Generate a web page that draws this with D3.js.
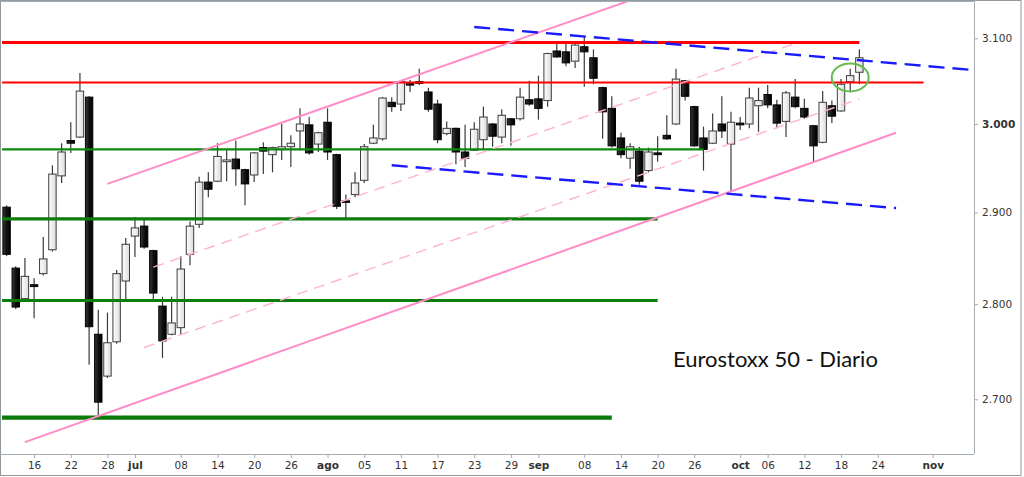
<!DOCTYPE html>
<html lang="es">
<head>
<meta charset="utf-8">
<title>Eurostoxx 50 - Diario</title>
<script src="https://d3js.org/d3.v7.min.js"></script>
<style>
    body { margin: 0; background: #fff; }
    svg { display: block; }
    .axis text { font-family: "DejaVu Sans", Verdana, sans-serif; font-size: 10.5px; fill: #333; }
    .axis path, .axis line { stroke: #a4acb4; }
    .title { font-family: Lato, "Open Sans", sans-serif; font-size: 22px; fill: #111; }
</style>
</head>
<body>
<svg id="chart" width="1024" height="477"></svg>
<script>

// daily candles, Eurostoxx 50
const dates = [
    "2016-06-13","2016-06-14","2016-06-15","2016-06-16","2016-06-17","2016-06-20","2016-06-21","2016-06-22","2016-06-23","2016-06-24",
    "2016-06-27","2016-06-28","2016-06-29","2016-06-30","2016-07-01","2016-07-04","2016-07-05","2016-07-06","2016-07-07","2016-07-08",
    "2016-07-11","2016-07-12","2016-07-13","2016-07-14","2016-07-15","2016-07-18","2016-07-19","2016-07-20","2016-07-21","2016-07-22",
    "2016-07-25","2016-07-26","2016-07-27","2016-07-28","2016-07-29","2016-08-01","2016-08-02","2016-08-03","2016-08-04","2016-08-05",
    "2016-08-08","2016-08-09","2016-08-10","2016-08-11","2016-08-12","2016-08-15","2016-08-16","2016-08-17","2016-08-18","2016-08-19",
    "2016-08-22","2016-08-23","2016-08-24","2016-08-25","2016-08-26","2016-08-29","2016-08-30","2016-08-31","2016-09-01","2016-09-02",
    "2016-09-05","2016-09-06","2016-09-07","2016-09-08","2016-09-09","2016-09-12","2016-09-13","2016-09-14","2016-09-15","2016-09-16",
    "2016-09-19","2016-09-20","2016-09-21","2016-09-22","2016-09-23","2016-09-26","2016-09-27","2016-09-28","2016-09-29","2016-09-30",
    "2016-10-03","2016-10-04","2016-10-05","2016-10-06","2016-10-07","2016-10-10","2016-10-11","2016-10-12","2016-10-13","2016-10-14",
    "2016-10-17","2016-10-18","2016-10-19","2016-10-20"
];
const open = [
    2906,2839,2806,2821,2833,2859,2941,2981,2985,3031,
    2768,2724,2760,2825,2874,2885,2858,2798,2768,2775,
    2854,2887,2934,2935,2957,2960,2948,2942,2973,2965,
    2971,2974,2992,2999,2977,3002,2965,2913,2920,2936,
    2978,2983,3025,3023,3048,3049,3037,3023,2989,2995,
    2968,2970,2982,3000,2985,3006,3006,3028,3029,3027,
    3085,3084,3073,3090,3077,3042,3018,2984,2961,2969,
    2947,2967,2987,3000,3050,3020,2984,2978,3000,2977,
    3001,3000,3021,3034,3022,3003,3031,3018,2998,2979,
    3021,3015,3049,3060
];
const high = [
    2908,2841,2850,2828,2873,2953,2978,3002,3059,3032,
    2794,2791,2837,2872,2895,2892,2859,2808,2808,2852,
    2890,2940,2945,2978,2970,2981,2949,2968,2979,2974,
    3000,2987,3018,3008,2991,3018,2966,2920,2945,2977,
    2999,3031,3031,3050,3051,3064,3042,3028,3003,2996,
    2999,3002,3020,3001,3017,3007,3042,3050,3056,3083,
    3094,3094,3094,3102,3087,3043,3032,2990,2978,2974,
    2973,2986,3010,3064,3051,3021,2997,3012,3032,3014,
    3008,3042,3042,3045,3028,3038,3052,3029,2999,3038,
    3027,3052,3064,3087
];
const low = [
    2852,2795,2804,2785,2831,2857,2933,2967,2984,2736,
    2683,2722,2758,2805,2851,2860,2805,2743,2767,2768,
    2842,2883,2917,2934,2935,2930,2908,2934,2943,2945,
    2959,2951,2970,2965,2968,2959,2904,2894,2917,2933,
    2977,2981,3014,3015,3037,3045,3014,2978,2987,2954,
    2951,2969,2971,2974,2978,2975,3004,3021,3005,3020,
    3077,3067,3065,3043,3046,2983,2973,2961,2949,2931,
    2945,2957,2982,2999,3027,2974,2947,2977,2984,2923,
    2993,2995,2991,3018,2995,2985,3018,3006,2956,2978,
    3001,3014,3038,3046
];
const close = [
    2854,2797,2830,2819,2849,2943,2968,2978,3038,2776,
    2697,2759,2833,2865,2883,2862,2812,2761,2780,2838,
    2885,2934,2926,2963,2959,2949,2932,2967,2969,2973,
    2974,2978,3000,2967,2990,2968,2907,2912,2933,2974,
    2984,3030,3020,3049,3045,3047,3017,2982,2995,2968,
    2961,2994,3008,2986,3010,2999,3031,3023,3018,3082,
    3078,3071,3092,3084,3053,3014,2975,2965,2974,2935,
    2968,2965,2983,3052,3032,2975,2971,2992,2992,3002,
    2999,3030,3027,3022,3001,3036,3020,3008,2975,3025,
    3009,3046,3056,3077
];

// horizontal support / resistance levels and the day where each one stops
const levelValues = [3095, 3048, 2971, 2893, 2804, 2681];
const levelEnds = ["2016-10-20", "2016-10-31", "2016-09-27", "2016-09-20", "2016-09-20", "2016-09-13"];

// trend lines: start day/value, end day/value
const trendStart = ["2016-06-15", "2016-06-28", "2016-07-05", "2016-07-04", "2016-08-23", "2016-08-10"];
const trendStartValue = [2656, 2932, 2840, 2754, 3113.5, 2953];
const trendEnd = ["2016-10-26", "2016-09-20", "2016-10-11", "2016-10-20", "2016-11-08", "2016-10-26"];
const trendEndValue = [2990, 3157, 3094, 3029, 3062, 2905];

// green ellipse around the breakout
const markDate = "2016-10-19";
const markValue = 3054;

// axis ticks
const tickDates = ["2016-06-16","2016-06-22","2016-06-28","2016-07-01","2016-07-08","2016-07-14","2016-07-20","2016-07-26",
    "2016-08-01","2016-08-05","2016-08-11","2016-08-17","2016-08-23","2016-08-29","2016-09-01","2016-09-08","2016-09-14",
    "2016-09-20","2016-09-26","2016-10-03","2016-10-06","2016-10-12","2016-10-18","2016-10-24","2016-11-01"];
const tickLabels = ["16","22","28","jul","08","14","20","26","ago","05","11","17","23","29","sep","08","14","20","26",
    "oct","06","12","18","24","nov"];
const priceTicks = [2700, 2800, 2900, 3000, 3100];

const titleText = "Eurostoxx 50 - Diario";

// ---- layout ----
const width = 1024;
const height = 477;
const plotLeft = 2, plotRight = 974, plotTop = 2, plotBottom = 454;

const parse = d3.timeParse("%Y-%m-%d");
// trading-day calendar (weekdays), the x axis is by session not by calendar day
const calendar = d3.timeDay.range(parse("2016-06-13"), parse("2016-11-12"))
    .filter(d => d.getDay() !== 0 && d.getDay() !== 6);
const dayIndex = s => calendar.findIndex(d => +d === +parse(s));

const x = d3.scaleLinear().domain([-0.5, 105.5]).range([plotLeft, plotRight]);
const y = d3.scaleLog().domain([2644, 3143.4]).range([plotBottom, plotTop]);

const fmt = d3.formatLocale({decimal: ",", thousands: ".", grouping: [3], currency: ["", ""]}).format(",");

const svg = d3.select("#chart");

const defs = svg.append("defs");
defs.append("clipPath").attr("id", "plot")
    .append("rect").attr("x", plotLeft).attr("y", plotTop)
    .attr("width", plotRight - plotLeft).attr("height", plotBottom - plotTop);

const gw = defs.append("linearGradient").attr("id", "gWhite");
gw.append("stop").attr("offset", "0%").attr("stop-color", "#ffffff");
gw.append("stop").attr("offset", "100%").attr("stop-color", "#dcdcdc");
const gb = defs.append("linearGradient").attr("id", "gBlack");
gb.append("stop").attr("offset", "0%").attr("stop-color", "#3a3a3a");
gb.append("stop").attr("offset", "50%").attr("stop-color", "#111");
gb.append("stop").attr("offset", "100%").attr("stop-color", "#000");

// outer frame
svg.append("rect")
    .attr("x", 0.5).attr("y", 0.5).attr("width", 1020.5).attr("height", 475)
    .attr("fill", "none").attr("stroke", "#8f979f").attr("stroke-width", 1);
svg.append("line")
    .attr("x1", 0).attr("x2", plotRight).attr("y1", 1.5).attr("y2", 1.5)
    .attr("stroke", "#a4acb4").attr("stroke-width", 1);

// ---- candles ----
const candles = dates.map((d, i) => ({
    i: dayIndex(d), o: open[i], h: high[i], l: low[i], c: close[i]
}));
const bodyW = 7.4;

const gCandles = svg.append("g").attr("clip-path", "url(#plot)");

gCandles.selectAll("line.wick")
    .data(candles)
    .join("line")
    .attr("class", "wick")
    .attr("x1", d => x(d.i)).attr("x2", d => x(d.i))
    .attr("y1", d => y(d.h)).attr("y2", d => y(d.l))
    .attr("stroke", "#3a3a3a")
    .attr("stroke-width", 1.2);

gCandles.selectAll("rect.body")
    .data(candles)
    .join("rect")
    .attr("class", "body")
    .attr("x", d => x(d.i) - bodyW / 2)
    .attr("width", bodyW)
    .attr("y", d => y(Math.max(d.o, d.c)))
    .attr("height", d => Math.max(1.5, y(Math.min(d.o, d.c)) - y(Math.max(d.o, d.c))))
    .attr("fill", d => d.c >= d.o ? "url(#gWhite)" : "url(#gBlack)")
    .attr("stroke", d => d.c >= d.o ? "#3c3c3c" : "#000")
    .attr("stroke-width", 1);

// ---- lines ----
const gLines = svg.append("g").attr("clip-path", "url(#plot)");

const levelColor = ["#ff0000", "#ff0000", "#0a8a0a", "#0a7d0a", "#0a7d0a", "#0a7a0a"];
const levelWidth = [3, 2.2, 2.4, 3.2, 3.2, 4.3];

gLines.selectAll("line.level")
    .data(levelValues)
    .join("line")
    .attr("class", "level")
    .attr("x1", plotLeft)
    .attr("x2", (d, i) => x(dayIndex(levelEnds[i])))
    .attr("y1", d => y(d)).attr("y2", d => y(d))
    .attr("stroke", (d, i) => levelColor[i])
    .attr("stroke-width", (d, i) => levelWidth[i]);

const trendColor = ["#ff8cc6", "#ff8cc6", "#ffb0d6", "#ffb0d6", "#1a1aff", "#1a1aff"];
const trendWidth = [2, 2, 1.4, 1.4, 2.4, 2.4];
const trendDash = [null, null, "11,7", "11,7", "16,8", "16,8"];

gLines.selectAll("line.trend")
    .data(trendStart)
    .join("line")
    .attr("class", "trend")
    .attr("x1", (d, i) => x(dayIndex(trendStart[i])))
    .attr("y1", (d, i) => y(trendStartValue[i]))
    .attr("x2", (d, i) => x(dayIndex(trendEnd[i])))
    .attr("y2", (d, i) => y(trendEndValue[i]))
    .attr("stroke", (d, i) => trendColor[i])
    .attr("stroke-width", (d, i) => trendWidth[i])
    .attr("stroke-dasharray", (d, i) => trendDash[i]);

svg.append("ellipse")
    .attr("cx", x(dayIndex(markDate)))
    .attr("cy", y(markValue))
    .attr("rx", 18.5).attr("ry", 14)
    .attr("fill", "none")
    .attr("stroke", "#62bb4e")
    .attr("stroke-width", 2);

// ---- axes ----
const xAxis = d3.axisBottom(x)
    .tickValues(tickDates.map(dayIndex))
    .tickFormat((d, i) => tickLabels[i])
    .tickSizeInner(4)
    .tickSizeOuter(0)
    .tickPadding(4);

const gx = svg.append("g")
    .attr("class", "axis")
    .attr("transform", "translate(0," + plotBottom + ")")
    .call(xAxis);
gx.select(".domain").attr("d", "M0,0.5H" + plotRight);
gx.selectAll(".tick text")
    .attr("font-weight", (d, i) => isNaN(+tickLabels[i]) ? "bold" : null);

const yAxis = d3.axisRight(y)
    .tickValues(priceTicks)
    .tickFormat(fmt)
    .tickSizeInner(4)
    .tickSizeOuter(0)
    .tickPadding(4);

const gy = svg.append("g")
    .attr("class", "axis")
    .attr("transform", "translate(" + plotRight + ",0)")
    .call(yAxis);
gy.select(".domain").attr("d", "M0.5,0V" + plotBottom);
gy.selectAll(".tick text")
    .attr("font-weight", d => d === 3000 ? "bold" : null);

// ---- title ----
svg.append("text")
    .attr("class", "title")
    .attr("x", 673)
    .attr("y", 367)
    .text(titleText);

</script>
</body>
</html>
